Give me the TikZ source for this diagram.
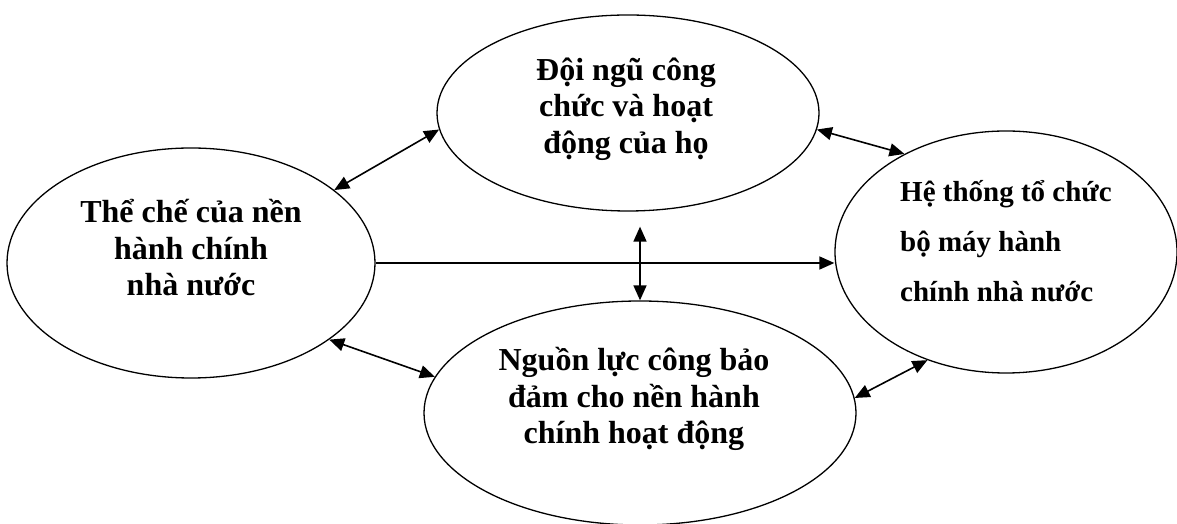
\documentclass[tikz,border=0pt]{standalone}
\usepackage{fontspec}
\setmainfont{Liberation Serif}
\usetikzlibrary{shapes.geometric,arrows.meta}

\begin{document}
\begin{tikzpicture}[x=1pt,y=1pt,>={Triangle[length=15pt,width=13pt]},
    ell/.style={draw,ellipse,line width=1.3pt,inner sep=0pt},
    lbl/.style={font=\bfseries\fontsize{32}{36.5}\selectfont,align=center,inner sep=0pt},
    link/.style={line width=1.6pt}]
  \useasboundingbox (0,0) rectangle (1177,524);
  \node[ell,minimum width=368pt,minimum height=230pt](inst) at (191,261){};
  \node[ell,minimum width=382pt,minimum height=196pt](staff) at (628,411){};
  \node[ell,minimum width=342pt,minimum height=242pt](org) at (1006,272){};
  \node[ell,minimum width=432pt,minimum height=224pt](res) at (640,111){};
  \node[lbl](instT) at (191,276){Thể chế của nền\\hành chính\\nhà nước};
  \node[lbl](staffT) at (626,415){Đội ngũ công\\chức và hoạt\\động của họ};
  \node[lbl](resT) at (634,125){Nguồn lực công bảo\\đảm cho nền hành\\chính hoạt động};
  \node[lbl,font=\bfseries\fontsize{29}{50}\selectfont,align=left,anchor=west](orgT) at (900,283){Hệ thống tổ chức\\bộ máy hành\\chính nhà nước};
  \coordinate (gap) at ([yshift=-15pt]staff.south);
  \draw[<->,link](inst.27)--(staff.185);
  \draw[<->,link](staff.-5)--(org.136);
  \draw[->,link](inst.east)--(inst.east-|org.west);
  \draw[<->,link](res.north)--(res.north|-gap);
  \draw[<->,link](inst.-29)--(res.170);
  \draw[<->,link](res.4)--(org.234);
\end{tikzpicture}
\end{document}
